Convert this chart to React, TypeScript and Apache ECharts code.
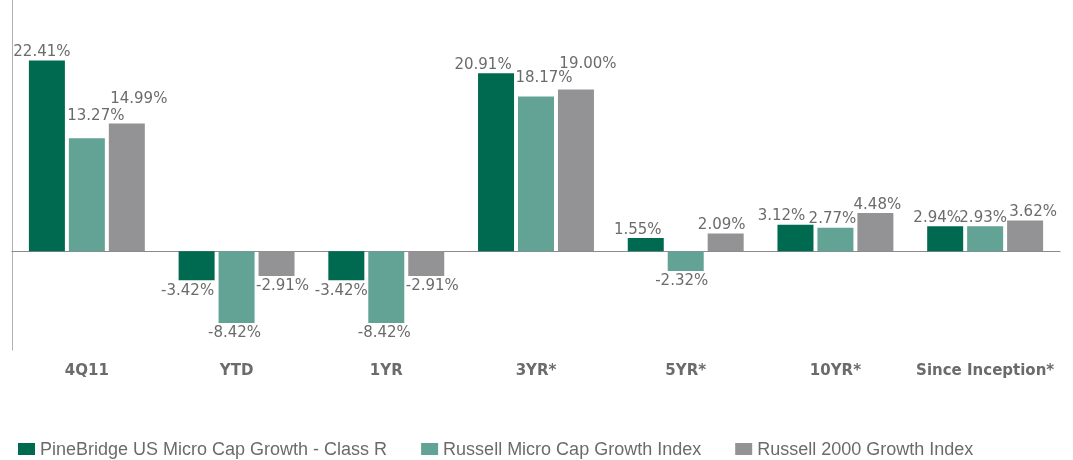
import React, { useEffect, useRef } from "react";
import * as echarts from "echarts";

const categories = ["4Q11", "YTD", "1YR", "3YR*", "5YR*", "10YR*", "Since Inception*"];
const seriesNames = [
  "PineBridge US Micro Cap Growth - Class R",
  "Russell Micro Cap Growth Index",
  "Russell 2000 Growth Index",
];
const pineBridge = [22.41, -3.42, -3.42, 20.91, 1.55, 3.12, 2.94];
const microCap = [13.27, -8.42, -8.42, 18.17, -2.32, 2.77, 2.93];
const r2000 = [14.99, -2.91, -2.91, 19.0, 2.09, 4.48, 3.62];
const colors = ["#006A50", "#62A396", "#939396"];

// label nudges [dx, dy] in pixels, per series, per category (styling only)
const labelNudges: number[][][] = [
  [[-5, 0], [-9, 0], [-5, 0], [-13, 0], [-8, 0], [-14, 0], [-8, 0]],
  [[9, -14], [-2, 0], [-2, 0], [8, -10], [-4, 0], [-3, 0], [-2, 0]],
  [[12, -16], [6, 0], [6, 0], [12, -17], [-4, 0], [2, 0], [8, 0]],
];

export default function App() {
  const ref = useRef<HTMLDivElement>(null);
  useEffect(() => {
    const chart = echarts.init(ref.current!, null, { renderer: "svg" });
    const mk = (si: number, vals: number[]) => ({
      name: seriesNames[si],
      type: "bar",
      xAxisIndex: 0,
      barWidth: 36,
      barGap: "11%",
      itemStyle: { color: colors[si] },
      data: vals.map((v, i) => ({
        value: v,
        label: {
          show: true,
          position: v < 0 ? "bottom" : "top",
          distance: 2,
          offset: labelNudges[si][i],
          formatter: (p: any) => p.value.toFixed(2) + "%",
          color: "#6b6b6b",
          fontSize: 15,
          fontFamily: "DejaVu Sans",
        },
      })),
    });
    chart.setOption({
      animation: false,
      color: colors,
      grid: { left: 12, right: 13, top: 0, bottom: 110 },
      legend: {
        top: 439,
        left: 18,
        padding: 0,
        itemWidth: 17,
        itemHeight: 12,
        itemGap: 34,
        icon: "rect",
        textStyle: { color: "#6b6b6b", fontSize: 18, fontFamily: "Liberation Sans", lineHeight: 20 },
        data: seriesNames,
      },
      xAxis: [
        {
          type: "category",
          data: categories,
          axisLine: { show: false, onZero: false },
          axisTick: { show: false },
          axisLabel: {
            interval: 0,
            color: "#6b6b6b",
            fontSize: 15,
            fontWeight: "bold",
            fontFamily: "DejaVu Sans",
            margin: 12,
          },
        },
        {
          type: "category",
          data: categories,
          position: "bottom",
          axisLine: { show: true, onZero: true, lineStyle: { color: "#8a8a8a", width: 1 } },
          axisTick: { show: false },
          axisLabel: { show: false },
        },
      ],
      yAxis: {
        type: "value",
        min: -11.6,
        max: 29.5,
        splitLine: { show: false },
        axisLabel: { show: false },
        axisTick: { show: false },
        axisLine: { show: true, lineStyle: { color: "#b0b0b0", width: 1 } },
      },
      series: [mk(0, pineBridge), mk(1, microCap), mk(2, r2000)],
    });
    return () => chart.dispose();
  }, []);
  return (
    <div
      ref={ref}
      style={{ position: "fixed", left: 0, top: 0, width: 1073, height: 460 }}
    />
  );
}
